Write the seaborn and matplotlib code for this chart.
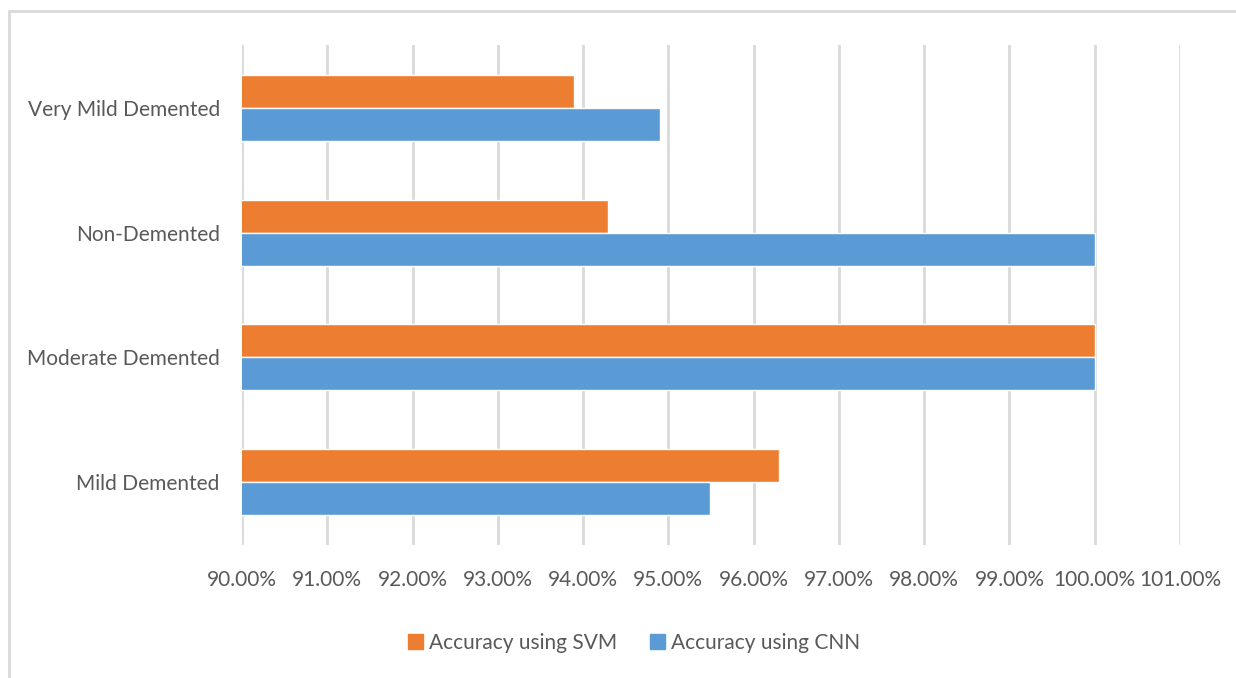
import pandas as pd
import numpy as np
import matplotlib.pyplot as plt
import seaborn as sns
from matplotlib.lines import Line2D
from matplotlib.ticker import FuncFormatter

# Data
categories = ['Very Mild Demented', 'Non-Demented', 'Moderate Demented', 'Mild Demented']
svm_acc = [93.89, 94.29, 100.0, 96.30]
cnn_acc = [94.90, 100.0, 100.0, 95.49]
series = ['Accuracy using SVM', 'Accuracy using CNN']

df = pd.DataFrame({
    'Class': categories * 2,
    'Accuracy': svm_acc + cnn_acc,
    'Model': [series[0]] * 4 + [series[1]] * 4,
})

sns.set_style('white')
plt.rcParams['font.family'] = ['Lato', 'DejaVu Sans']
text_col = '#595959'
grid_col = '#D9D9D9'

fig = plt.figure(figsize=(12.36, 6.78), dpi=100)
ax = fig.add_axes([0.1958, 0.1962, 0.7589, 0.7374])

sns.barplot(data=df, y='Class', x='Accuracy', hue='Model', order=categories,
            hue_order=series, palette=['#ED7D31', '#5B9BD5'], width=0.528,
            orient='h', saturation=1, ax=ax, legend=False)

ax.set_xlim(90, 101)
ax.set_ylim(3.5, -0.5)
ax.set_xticks(np.arange(90, 102, 1))
ax.xaxis.set_major_formatter(FuncFormatter(lambda v, p: f'{v:.2f}%'))
ax.grid(axis='x', color=grid_col, linewidth=2)
ax.set_axisbelow(True)
for s in ax.spines.values():
    s.set_visible(False)
ax.tick_params(axis='both', length=0, labelsize=15, colors=text_col)
ax.tick_params(axis='x', pad=18)
ax.tick_params(axis='y', pad=16)
ax.set_xlabel('')
ax.set_ylabel('')

# Legend
handles = [plt.Rectangle((0, 0), 1, 1, color=c) for c in ['#ED7D31', '#5B9BD5']]
fig.legend(handles, series, loc='center', bbox_to_anchor=(0.513, 0.052), ncol=2,
           frameon=False, fontsize=15, labelcolor=text_col, handlelength=0.7,
           handleheight=0.7, handletextpad=0.3, columnspacing=1.6)

# Outer frame (top and left edges)
fig.add_artist(Line2D([0.0073, 1.0], [0.9838, 0.9838], color=grid_col, linewidth=2))
fig.add_artist(Line2D([0.0073, 0.0073], [0.0, 0.9838], color=grid_col, linewidth=2))

fig.savefig('out.png', dpi=100)
